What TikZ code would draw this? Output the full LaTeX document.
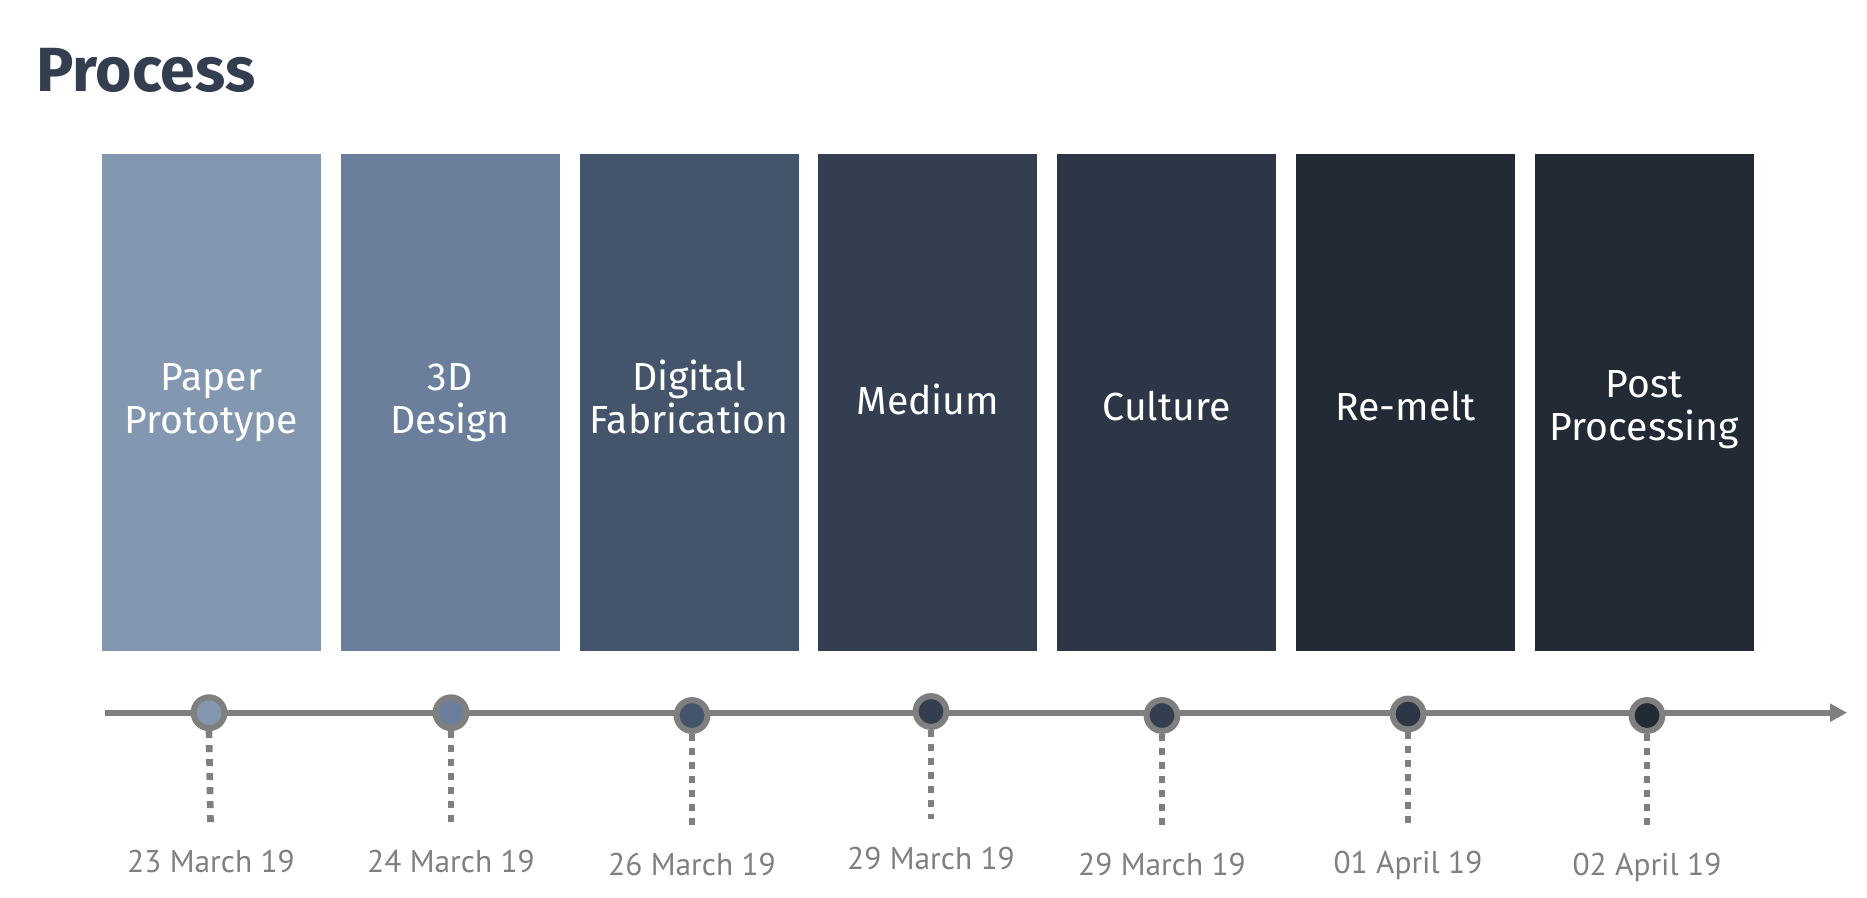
\documentclass[tikz,border=0pt]{standalone}
\usepackage{fontspec}
\setmainfont{PT Sans}
\newfontfamily\stagefont{Fira Sans}
\usepackage{xcolor}
\usetikzlibrary{
    positioning,     % For relative node placement (e.g., right=of)
    arrows.meta      % For the arrow tip of the timeline
}
\definecolor{headcolor}{HTML}{333F50}
\definecolor{linegray}{HTML}{7F7F7F}
\definecolor{stage_one}{HTML}{8497B0}
\definecolor{stage_two}{HTML}{6B7F9D}
\definecolor{stage_three}{HTML}{44546A}
\definecolor{stage_four}{HTML}{333F50}
\definecolor{stage_five}{HTML}{2D3646}
\definecolor{stage_six}{HTML}{222A35}
\definecolor{stage_seven}{HTML}{222A35}

\begin{document}
\begin{tikzpicture}[x=0.5pt, y=-0.5pt]

    % --- Style Definitions ---
    \tikzset{
        % the tall coloured column of each step
        stage/.style={
            rectangle,
            minimum width=109.5pt,
            minimum height=248.5pt,
            inner sep=0pt, outer sep=0pt
        },
        % the white words in a column
        stagetext/.style={
            text=white,
            font=\stagefont\fontsize{19.6}{21.5}\selectfont,
            align=center,
            inner sep=0pt
        },
        % a dot on the timeline
        milestone/.style={
            circle,
            draw=linegray,
            line width=3pt,
            minimum size=15.4pt,
            inner sep=0pt
        },
        % the date under each dot
        date/.style={
            font=\fontsize{15.7}{18}\selectfont,
            text=linegray,
            inner sep=0pt,
            text height=11pt, text depth=3pt
        },
        timeline/.style={
            -{Triangle[length=8.5pt, width=8.7pt]},
            line width=3pt,
            linegray
        },
        tick/.style={
            linegray,
            line width=3.3pt,
            dash pattern=on 3.5pt off 3.5pt,
            shorten >=14pt
        },
        heading/.style={
            font=\stagefont\bfseries\fontsize{31.2}{34}\selectfont,
            text=headcolor,
            inner sep=0pt
        }
    }

    \useasboundingbox (0,0) rectangle (1867,898);

    % --- Title ---
    \node[heading, anchor=base west] (head) at (36,92) {Process};

    % --- Columns ---
    \node[stage, fill=stage_one] (paper) at (211.5,402.5) {};
    \node[stage, fill=stage_two, right=9.9pt of paper] (design) {};
    \node[stage, fill=stage_three, right=9.9pt of design] (fab) {};
    \node[stage, fill=stage_four, right=9.9pt of fab] (medium) {};
    \node[stage, fill=stage_five, right=9.9pt of medium] (culture) {};
    \node[stage, fill=stage_six, right=9.9pt of culture] (remelt) {};
    \node[stage, fill=stage_seven, right=9.9pt of remelt] (post) {};

    % column words (not all sit at the same height in the slide)
    \node[stagetext] (paper text) at (paper.center) {Paper\\Prototype};
    \node[stagetext] (design text) at (design.center) {3D\\Design};
    \node[stagetext, yshift=2.8pt] (fab text) at (fab.center) {Digital\\Fabrication};
    \node[stagetext, yshift=1.5pt] (medium text) at (medium.center) {Medium};
    \node[stagetext, yshift=-2pt] (culture text) at (culture.center) {Culture};
    \node[stagetext, yshift=-2pt] (remelt text) at (remelt.center) {Re-melt};
    \node[stagetext, yshift=-3.5pt] (post text) at (post.center) {Post\\Processing};

    % --- Timeline ---
    \coordinate (line start) at (105,712.7);
    \coordinate (line end) at (1847,712.7);
    \draw[timeline] (line start) -- (line end);

    % the dots, a little off the column centres as in the slide
    \node[milestone, fill=stage_one] (m1) at (209,712.7) {};
    \node[milestone, fill=stage_two] (m2) at (451,712.7) {};
    \node[milestone, fill=stage_three] (m3) at (692,715.5) {};
    \node[milestone, fill=stage_four] (m4) at (931,711.5) {};
    \node[milestone, fill=stage_four] (m5) at (1162,715.5) {};
    \node[milestone, fill=stage_five] (m6) at (1408,714) {};
    \node[milestone, fill=stage_seven] (m7) at (1647,715.5) {};

    % --- Dates ---
    \node[date, below=59.5pt of m1, xshift=1pt] (date1) {23 March 19};
    \node[date, below=59.5pt of m2] (date2) {24 March 19};
    \node[date, below=59.5pt of m3] (date3) {26 March 19};
    \node[date, below=58.5pt of m4] (date4) {29 March 19};
    \node[date, below=59.5pt of m5] (date5) {29 March 19};
    \node[date, below=59.5pt of m6] (date6) {01 April 19};
    \node[date, below=59.5pt of m7] (date7) {02 April 19};

    % --- Dotted drop lines ---
    \draw[tick] (m1.south) -- (date1.north);
    \draw[tick] (m2.south) -- (date2.north);
    \draw[tick] (m3.south) -- (date3.north);
    \draw[tick] (m4.south) -- (date4.north);
    \draw[tick] (m5.south) -- (date5.north);
    \draw[tick] (m6.south) -- (date6.north);
    \draw[tick] (m7.south) -- (date7.north);

\end{tikzpicture}
\end{document}
